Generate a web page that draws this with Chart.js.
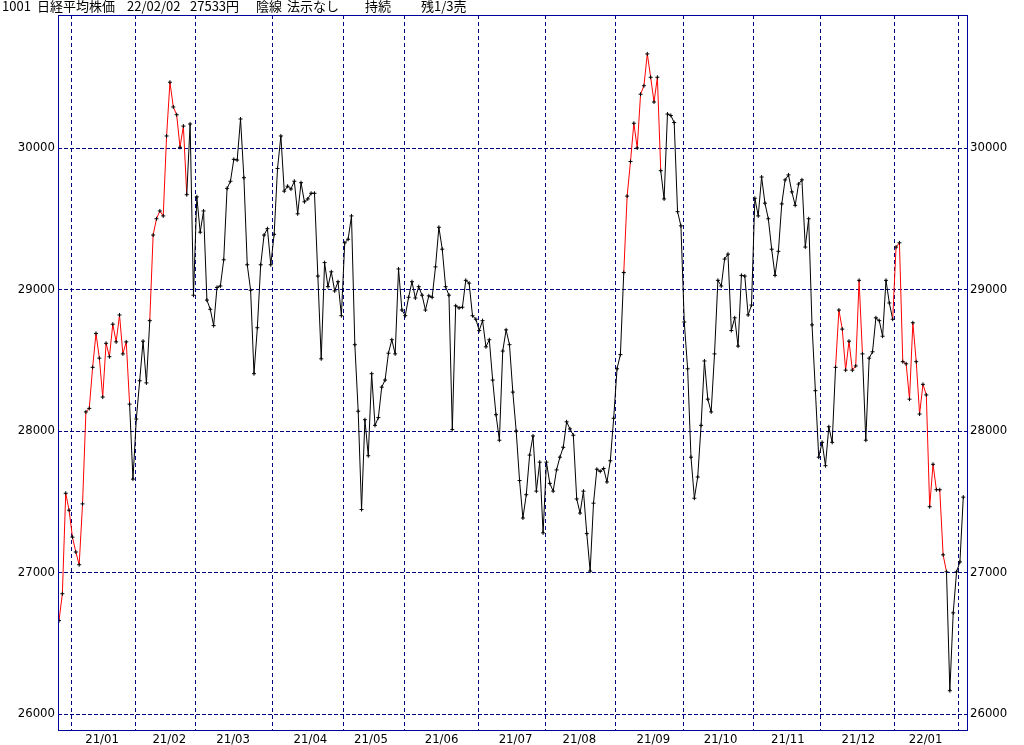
<!DOCTYPE html>
<html lang="ja">
<head>
<meta charset="UTF-8">
<title>日経平均株価</title>
<script src="https://cdn.jsdelivr.net/npm/chart.js"></script>
<style>
  body { margin: 0; background: #fff; }
  #wrap { position: relative; width: 1024px; height: 745px; }
  #head span {
    position: absolute; top: -1px;
    font: 13px "Noto Sans CJK JP", sans-serif; line-height: 14px;
    color: #000; white-space: nowrap;
  }
</style>
</head>
<body>
<div id="wrap">
  <canvas id="chart" width="1024" height="745"></canvas>
  <div id="head">
    <span style="left:2px">1001</span>
    <span style="left:37px">日経平均株価</span>
    <span style="left:127px">22/02/02</span>
    <span style="left:190px">27533円</span>
    <span style="left:256px">陰線</span>
    <span style="left:287px">法示なし</span>
    <span style="left:365px">持続</span>
    <span style="left:421px">残1/3売</span>
  </div>
</div>

<script>
// daily closes, 2020/12/25 .. 2022/02/02
const closes = [
  26660, 26850, 27560, 27440, 27250, 27145, 27055, 27485, 28135, 28160,
  28450, 28690, 28515, 28240, 28620, 28525, 28755, 28630, 28820, 28545,
  28630, 28190, 27660, 28085, 28355, 28635, 28340, 28780, 29385, 29500,
  29555, 29520, 30085, 30465, 30290, 30235, 30005, 30155, 29670, 30170,
  28960, 29655, 29405, 29555, 28925, 28860, 28745, 29015, 29025, 29210,
  29715, 29765, 29920, 29915, 30205, 29790, 29175, 28995, 28405, 28730,
  29175, 29385, 29430, 29175, 29390, 29855, 30085, 29695, 29730, 29710,
  29765, 29535, 29755, 29620, 29640, 29680, 29680, 29095, 28510, 29190,
  29020, 29125, 28990, 29055, 28815, 29330, 29355, 29520, 28610, 28140,
  27445, 28080, 27825, 28405, 28040, 28095, 28310, 28360, 28550, 28645,
  28545, 29145, 28855, 28815, 28945, 29055, 28940, 29020, 28960, 28855,
  28955, 28945, 29160, 29440, 29285, 29020, 28960, 28010, 28885, 28870,
  28875, 29065, 29045, 28815, 28790, 28710, 28780, 28595, 28645, 28360,
  28115, 27935, 28565, 28715, 28610, 28275, 28000, 27650, 27385, 27550,
  27830, 27965, 27575, 27780, 27280, 27780, 27630, 27575, 27725, 27815,
  27885, 28065, 28015, 27970, 27520, 27420, 27575, 27275, 27010, 27490,
  27730, 27715, 27735, 27640, 27790, 28090, 28440, 28540, 29120, 29660,
  29905, 30175, 30000, 30380, 30440, 30665, 30500, 30325, 30500, 29840,
  29640, 30240, 30230, 30180, 29550, 29450, 28770, 28440, 27815, 27525,
  27675, 28040, 28495, 28225, 28135, 28545, 29065, 29025, 29215, 29250,
  28710, 28800, 28600, 29100, 29095, 28820, 28890, 29645, 29520, 29795,
  29610, 29500, 29285, 29100, 29270, 29605, 29775, 29810, 29690, 29595,
  29745, 29775, 29300, 29500, 28750, 28285, 27815, 27920, 27755, 28030,
  27920, 28450, 28855, 28720, 28430, 28635, 28430, 28460, 29065, 28545,
  27935, 28515, 28560, 28800, 28780, 28670, 29065, 28905, 28790, 29300,
  29330, 28490, 28475, 28225, 28765, 28490, 28120, 28330, 28255, 27465,
  27765, 27585, 27585, 27125, 27005, 26165, 26715, 27005, 27075, 27533
];

// segments (by start index) drawn in red
const redRuns = [[0, 20], [27, 37], [168, 178], [231, 238], [248, 263]];

// index of the first trading day of each month (grid lines)
const monthStarts = [4, 23, 41, 64, 85, 103, 125, 145, 166, 186, 207, 227, 249, 268];

// month labels and the trading day (around the 15th) they sit on
const monthLabels = ['21/01', '21/02', '21/03', '21/04', '21/05', '21/06', '21/07',
                     '21/08', '21/09', '21/10', '21/11', '21/12', '22/01'];
const labelDays = [12, 32, 51, 74, 92, 113, 135, 154, 176, 196, 216, 237, 257];

const yTicks = [26000, 27000, 28000, 29000, 30000];

const NAVY = '#000080';
const tickFont = { family: "'Liberation Sans Narrow', 'DejaVu Sans Condensed', 'Liberation Sans', sans-serif", size: 13 };

const isRed = i => redRuns.some(r => i >= r[0] && i <= r[1]);

// solid blue frame around the plot area
const framePlugin = {
  id: 'frame',
  afterDraw(chart) {
    const { ctx, chartArea: a } = chart;
    ctx.save();
    ctx.strokeStyle = '#0000a0';
    ctx.lineWidth = 1;
    ctx.strokeRect(a.left + 0.5, a.top + 0.5, a.right - a.left - 1, a.bottom - a.top - 1);
    ctx.restore();
  }
};

const setYTicks = scale => { scale.ticks = yTicks.map(v => ({ value: v })); };
const plainNumber = v => String(v);

const ctx = document.getElementById('chart').getContext('2d');
const chart = new Chart(ctx, {
  type: 'line',
  data: {
    datasets: [{
      data: closes.map((v, i) => ({ x: i, y: v })),
      borderColor: '#000',
      borderWidth: 1,
      tension: 0,
      segment: { borderColor: c => isRed(c.p0DataIndex) ? '#ff0000' : '#000000' },
      pointStyle: 'cross',
      pointRadius: 2,
      pointHoverRadius: 2,
      pointBorderColor: '#000',
      pointBorderWidth: 1,
      xAxisID: 'x',
      yAxisID: 'y'
    }]
  },
  options: {
    responsive: false,
    animation: false,
    events: [],
    layout: { padding: { top: 15, left: 0, right: 0, bottom: 0 } },
    plugins: { legend: { display: false }, tooltip: { enabled: false } },
    scales: {
      x: {
        type: 'linear',
        position: 'bottom',
        min: -0.3,
        max: 270.4,
        afterBuildTicks: scale => {
          const t = monthStarts.map(m => ({ value: m - 0.35 }))
            .concat(labelDays.map((d, k) => ({ value: d + 0.8, lbl: monthLabels[k] })));
          t.sort((a, b) => a.value - b.value);
          scale.ticks = t;
        },
        afterFit: scale => { scale.height = 14; },
        grid: {
          color: c => (c.tick && c.tick.lbl) ? 'rgba(0,0,0,0)' : NAVY,
          lineWidth: 1,
          drawTicks: false
        },
        border: { display: false, dash: [4, 3] },
        ticks: {
          autoSkip: false,
          maxRotation: 0,
          padding: 1,
          color: '#000',
          font: tickFont,
          callback: (v, i, ts) => ts[i].lbl || ''
        }
      },
      y: {
        position: 'left',
        min: 25880,
        max: 30940,
        afterBuildTicks: setYTicks,
        afterFit: scale => { scale.width = 58; },
        grid: { color: NAVY, lineWidth: 1, drawTicks: false },
        border: { display: false, dash: [4, 2] },
        ticks: { padding: 3, color: '#000', font: tickFont, callback: plainNumber }
      },
      y2: {
        position: 'right',
        min: 25880,
        max: 30940,
        afterBuildTicks: setYTicks,
        afterFit: scale => { scale.width = 56; },
        grid: { display: false, drawTicks: false },
        border: { display: false },
        ticks: { padding: 2, color: '#000', font: tickFont, callback: plainNumber }
      }
    }
  },
  plugins: [framePlugin]
});
</script>
</body>
</html>
